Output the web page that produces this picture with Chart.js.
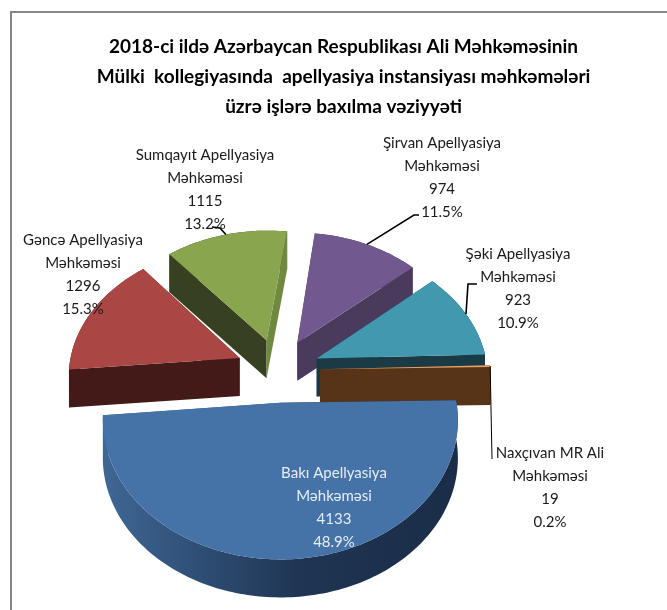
<!DOCTYPE html>
<html>
<head>
<meta charset="utf-8">
<style>
  html, body { margin: 0; background: #fff; overflow: hidden; }
  #frame { position: absolute; left: 10px; top: 11px; width: 700px; height: 700px; border-top: 2px solid #868686; border-left: 2px solid #868686; }
  canvas { position: absolute; left: 0; top: 0; }
</style>
<script src="https://cdn.jsdelivr.net/npm/chart.js@4/dist/chart.umd.min.js"></script>
</head>
<body>
<div id="frame"></div>
<canvas id="pie" width="667" height="610"></canvas>
<script>
const courts = [
  "Bakı Apellyasiya Məhkəməsi",
  "Gəncə Apellyasiya Məhkəməsi",
  "Sumqayıt Apellyasiya Məhkəməsi",
  "Şirvan Apellyasiya Məhkəməsi",
  "Şəki Apellyasiya Məhkəməsi",
  "Naxçıvan MR Ali Məhkəməsi"
];
const cases = [4133, 1296, 1115, 974, 923, 19];
const titleLines = [
  "2018-ci ildə Azərbaycan Respublikası Ali Məhkəməsinin",
  "Mülki  kollegiyasında  apellyasiya instansiyası məhkəmələri",
  "üzrə işlərə baxılma vəziyyəti"
];

// colours per slice: top face, front cut / wall, other cut face
const faceColors = ["#4572A7", "#AA4643", "#89A54E", "#71588F", "#4198AF", "#E2A468"];
const wallColors = ["#1B2E4A", "#431A18", "#374020", "#4A3A5C", "#1A3A45", "#573318"];
const sideColors = ["#3F6795", "#431A18", "#6F8A3F", "#4A3A5C", "#1A3A45", "#573318"];

// label layout: centre x, first line y, then the elbow(s) of the leader line
const labelX = [334, 83, 205, 442, 518, 550];
const labelY = [473, 240, 155, 143, 254, 453];
const leaders = [
  null,
  null,
  [[220, 228], [212, 227]],
  [[414, 215], [419, 215]],
  [[468, 284], [477, 284]],
  [[492, 459]]
];

// fake 3D camera
const view = { x: 278, y: 370, tilt: 0.757, persp: 0.0007, depth: 38 };

function project(u, v, h) {
  const f = 1 / (1 - view.persp * v);
  return [view.x + u * f, view.y + view.tilt * v * f + h];
}

function tracePoly(ctx, pts) {
  ctx.beginPath();
  pts.forEach((p, i) => i ? ctx.lineTo(p[0], p[1]) : ctx.moveTo(p[0], p[1]));
  ctx.closePath();
}

function sliceGeometry(el) {
  const { startAngle, endAngle, outerRadius } = el.getProps(["startAngle", "endAngle", "outerRadius"], true);
  const mid = (startAngle + endAngle) / 2;
  const ou = Math.cos(mid) * el.options.offset;
  const ov = Math.sin(mid) * el.options.offset;
  const steps = Math.max(2, Math.ceil((endAngle - startAngle) / 0.02));
  const rim = [];
  for (let i = 0; i <= steps; i++) {
    const t = startAngle + (endAngle - startAngle) * i / steps;
    rim.push([ou + Math.cos(t) * outerRadius, ov + Math.sin(t) * outerRadius]);
  }
  return { mid, ou, ov, rim, outerRadius };
}

function drawSlice(ctx, el, i) {
  const g = sliceGeometry(el);
  const d = view.depth;
  const first = g.rim[0];
  const last = g.rim[g.rim.length - 1];

  // outer wall
  const top = g.rim.map(p => project(p[0], p[1], 0));
  const bottom = g.rim.map(p => project(p[0], p[1], d)).reverse();
  if (i === 0) {
    const grad = ctx.createLinearGradient(top[0][0], 0, top[top.length - 1][0], 0);
    grad.addColorStop(0, "#1A2D48");
    grad.addColorStop(0.45, "#1F3553");
    grad.addColorStop(1, "#3F6795");
    ctx.fillStyle = grad;
  } else {
    ctx.fillStyle = wallColors[i];
  }
  tracePoly(ctx, top.concat(bottom));
  ctx.fill();

  // cut faces
  ctx.fillStyle = wallColors[i];
  tracePoly(ctx, [project(g.ou, g.ov, 0), project(first[0], first[1], 0), project(first[0], first[1], d), project(g.ou, g.ov, d)]);
  ctx.fill();
  ctx.fillStyle = sideColors[i];
  tracePoly(ctx, [project(g.ou, g.ov, 0), project(last[0], last[1], 0), project(last[0], last[1], d), project(g.ou, g.ov, d)]);
  ctx.fill();

  // top face
  ctx.fillStyle = faceColors[i];
  tracePoly(ctx, [project(g.ou, g.ov, 0)].concat(top));
  ctx.fill();
}

function drawLeader(ctx, el, i) {
  if (!leaders[i]) return;
  const g = sliceGeometry(el);
  const r = g.outerRadius;
  const start = project(g.ou + Math.cos(g.mid) * r, g.ov + Math.sin(g.mid) * r, 0);
  ctx.strokeStyle = "#000";
  ctx.lineWidth = i === 5 ? 1 : 1.6;
  ctx.beginPath();
  ctx.moveTo(start[0], start[1]);
  leaders[i].forEach(p => ctx.lineTo(p[0], p[1]));
  ctx.stroke();
}

function drawLabel(ctx, i, total) {
  const name = courts[i];
  const cut = name.lastIndexOf(" ");
  const lines = [name.slice(0, cut), name.slice(cut + 1), String(cases[i]), (cases[i] / total * 100).toFixed(1) + "%"];
  ctx.font = "15px Lato, sans-serif";
  ctx.textAlign = "center";
  ctx.textBaseline = "middle";
  ctx.fillStyle = i === 0 ? "#E6EDF5" : "#1A1A1A";
  lines.forEach((line, n) => ctx.fillText(line, labelX[i], labelY[i] + n * 23));
}

const pie3d = {
  id: "pie3d",
  beforeDatasetsDraw(chart) {
    const ctx = chart.ctx;
    const arcs = chart.getDatasetMeta(0).data;
    const total = cases.reduce((a, b) => a + b, 0);

    ctx.save();
    // back slices first
    const order = arcs.map((el, i) => i).sort((a, b) => {
      return Math.sin((arcs[a].startAngle + arcs[a].endAngle) / 2) - Math.sin((arcs[b].startAngle + arcs[b].endAngle) / 2);
    });
    order.forEach(i => drawSlice(ctx, arcs[i], i));
    arcs.forEach((el, i) => drawLeader(ctx, el, i));
    arcs.forEach((el, i) => drawLabel(ctx, i, total));
    ctx.restore();
    return false;
  }
};

new Chart(document.getElementById("pie"), {
  type: "pie",
  data: {
    labels: courts,
    datasets: [{
      data: cases,
      backgroundColor: faceColors,
      borderWidth: 0,
      offset: 42,
      radius: 171
    }]
  },
  options: {
    responsive: false,
    animation: false,
    rotation: 89,
    layout: { padding: { left: 20 } },
    plugins: {
      legend: { display: false },
      tooltip: { enabled: false },
      title: {
        display: true,
        text: titleLines,
        color: "#000",
        font: { family: "Lato, sans-serif", size: 19, weight: "bold", lineHeight: 1.58 },
        padding: { top: 32, bottom: 10 }
      }
    }
  },
  plugins: [pie3d]
});
</script>
</body>
</html>
